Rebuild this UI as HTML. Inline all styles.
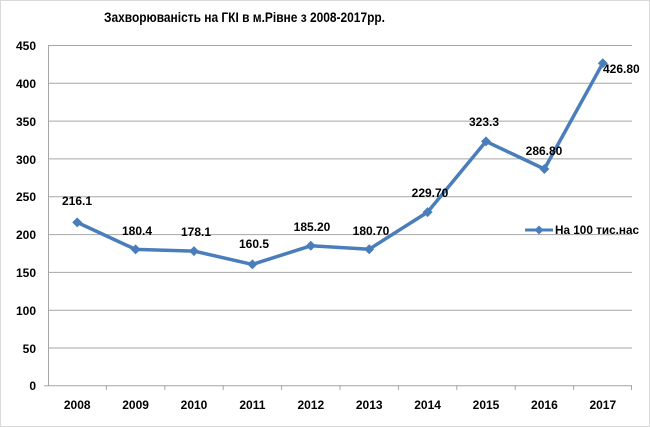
<!DOCTYPE html>
<html><head><meta charset="utf-8"><style>
html,body{margin:0;padding:0;background:#fff}
svg{display:block;font-family:"Liberation Sans",Arial,sans-serif}
</style></head><body>
<svg width="650" height="427" viewBox="0 0 650 427" xmlns="http://www.w3.org/2000/svg">
<rect x="0.5" y="0.5" width="649" height="426" fill="#fff" stroke="#d9d9d9"/>
<text x="104" y="22" font-size="14" font-weight="bold" textLength="281" lengthAdjust="spacingAndGlyphs">Захворюваність на ГКІ в м.Рівне з 2008-2017рр.</text>
<g stroke="#a6a6a6" stroke-width="1">
<line x1="48" x2="632" y1="45.5" y2="45.5"/>
<line x1="48" x2="632" y1="83.3" y2="83.3"/>
<line x1="48" x2="632" y1="121.1" y2="121.1"/>
<line x1="48" x2="632" y1="158.9" y2="158.9"/>
<line x1="48" x2="632" y1="196.8" y2="196.8"/>
<line x1="48" x2="632" y1="234.6" y2="234.6"/>
<line x1="48" x2="632" y1="272.4" y2="272.4"/>
<line x1="48" x2="632" y1="310.2" y2="310.2"/>
<line x1="48" x2="632" y1="348" y2="348"/>
<line x1="44" x2="632" y1="385.7" y2="385.7"/>
<line x1="48.5" x2="48.5" y1="45" y2="386"/>
<g>
<line x1="106.4" x2="106.4" y1="385" y2="390"/><line x1="164.8" x2="164.8" y1="385" y2="390"/><line x1="223.2" x2="223.2" y1="385" y2="390"/><line x1="281.6" x2="281.6" y1="385" y2="390"/><line x1="340" x2="340" y1="385" y2="390"/><line x1="398.4" x2="398.4" y1="385" y2="390"/><line x1="456.8" x2="456.8" y1="385" y2="390"/><line x1="515.2" x2="515.2" y1="385" y2="390"/><line x1="573.6" x2="573.6" y1="385" y2="390"/><line x1="631.5" x2="631.5" y1="385" y2="390"/>
</g>
</g>
<g font-size="12" font-weight="bold" text-anchor="end" fill="#000">
<text x="36" y="50">450</text><text x="36" y="88">400</text><text x="36" y="126">350</text><text x="36" y="164">300</text><text x="36" y="201">250</text><text x="36" y="239">200</text><text x="36" y="277">150</text><text x="36" y="315">100</text><text x="36" y="353">50</text><text x="36" y="390">0</text>
</g>
<g font-size="12" font-weight="bold" text-anchor="middle" fill="#000">
<text x="77.2" y="409">2008</text><text x="135.6" y="409">2009</text><text x="194" y="409">2010</text><text x="252.4" y="409">2011</text><text x="310.8" y="409">2012</text><text x="369.2" y="409">2013</text><text x="427.6" y="409">2014</text><text x="486" y="409">2015</text><text x="544.4" y="409">2016</text><text x="602.8" y="409">2017</text>
</g>
<polyline fill="none" stroke="#4a7ebb" stroke-width="3.5" stroke-linejoin="round" points="77.2,222.4 135.6,249.4 194,251.1 252.4,264.4 310.8,245.8 369.2,249.2 427.6,212.1 486,141.4 544.4,169 602.8,63.2"/>
<g fill="#4a7ebb">
<path d="M77.2,217.4l5,5l-5,5l-5,-5z"/><path d="M135.6,244.4l5,5l-5,5l-5,-5z"/><path d="M194,246.1l5,5l-5,5l-5,-5z"/><path d="M252.4,259.4l5,5l-5,5l-5,-5z"/><path d="M310.8,240.8l5,5l-5,5l-5,-5z"/><path d="M369.2,244.2l5,5l-5,5l-5,-5z"/><path d="M427.6,207.1l5,5l-5,5l-5,-5z"/><path d="M486,136.4l5,5l-5,5l-5,-5z"/><path d="M544.4,164l5,5l-5,5l-5,-5z"/><path d="M602.8,58.2l5,5l-5,5l-5,-5z"/>
</g>
<g font-size="12" font-weight="bold" fill="#000" text-anchor="middle">
<text x="77" y="205">216.1</text><text x="137" y="235">180.4</text><text x="196" y="236">178.1</text><text x="254" y="248">160.5</text><text x="312" y="231">185.20</text><text x="371" y="235">180.70</text><text x="430" y="197">229.70</text><text x="484" y="126">323.3</text><text x="544" y="155">286.80</text>
<text x="603" y="73" text-anchor="start">426.80</text>
</g>
<line x1="525" x2="553" y1="230" y2="230" stroke="#4a7ebb" stroke-width="3"/>
<path d="M539,225.5l4.5,4.5l-4.5,4.5l-4.5,-4.5z" fill="#4a7ebb"/>
<text x="555" y="234" font-size="12" font-weight="bold" textLength="84" lengthAdjust="spacingAndGlyphs">На 100 тис.нас</text>
</svg>
</body></html>
